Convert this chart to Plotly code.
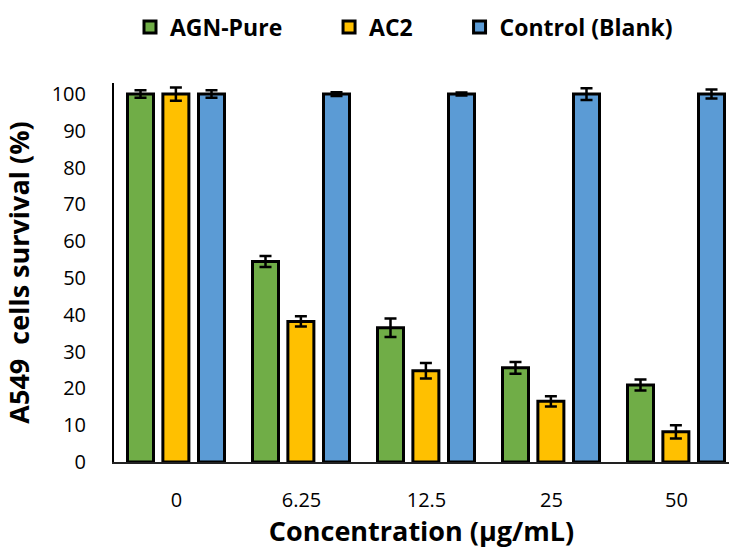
import plotly.graph_objects as go

# Concentration groups (µg/mL)
concentrations = ["0", "6.25", "12.5", "25", "50"]

# Cell survival (%) and standard deviations
agn_pure = [100.0, 54.5, 36.5, 25.6, 20.9]
agn_pure_err = [1.0, 1.5, 2.5, 1.6, 1.5]

ac2 = [100.0, 38.2, 24.8, 16.5, 8.2]
ac2_err = [1.8, 1.4, 2.1, 1.4, 1.8]

control = [100.0, 100.0, 100.0, 100.0, 100.0]
control_err = [1.0, 0.5, 0.4, 1.6, 1.2]

series = [
    ("AGN-Pure", agn_pure, agn_pure_err, "#70AD47", -0.392),
    ("AC2", ac2, ac2_err, "#FFC000", -0.109),
    ("Control (Blank)", control, control_err, "#5B9BD5", 0.176),
]

FONT = "'Open Sans', Lato, sans-serif"
PAD = "\u00a0" * 7  # extra room between legend entries

fig = go.Figure()
for i, (name, vals, errs, color, off) in enumerate(series):
    fig.add_trace(go.Bar(
        name=name + (PAD if i < len(series) - 1 else ""),
        x=concentrations,
        y=vals,
        offset=off,
        width=0.208,
        marker=dict(color=color, line=dict(color="black", width=3)),
        error_y=dict(type="data", array=errs, visible=True,
                     color="black", thickness=2.5, width=6),
    ))

fig.update_layout(
    width=729,
    height=549,
    margin=dict(l=114, r=0, t=83, b=87),
    plot_bgcolor="white",
    paper_bgcolor="white",
    barmode="overlay",
    showlegend=True,
    legend=dict(
        orientation="h",
        x=404 / 729, xref="container", xanchor="center",
        y=0.99, yref="container", yanchor="top",
        font=dict(family=FONT, size=23, color="black", weight="bold"),
        itemwidth=30,
        tracegroupgap=0,
    ),
    font=dict(family=FONT, color="black"),
)

fig.update_xaxes(
    type="category",
    range=[-0.5, -0.5 + 615 / 125],
    showline=True, linecolor="#222222", linewidth=2,
    ticks="", showgrid=False, zeroline=False,
    tickfont=dict(family=FONT, size=20, color="black"),
    ticklabelstandoff=19,
    title=dict(text="Concentration (µg/mL)",
               font=dict(family=FONT, size=27, color="black", weight="bold"),
               standoff=12),
)

fig.update_yaxes(
    range=[0, 103],
    tickvals=list(range(0, 101, 10)),
    showline=True, linecolor="black", linewidth=2,
    ticks="", showgrid=False, zeroline=False,
    tickfont=dict(family=FONT, size=20, color="black"),
    ticklabelstandoff=22,
    title=dict(text="A549  cells survival (%)",
               font=dict(family=FONT, size=27, color="black", weight="bold"),
               standoff=14),
)

fig.write_html("out.html")
